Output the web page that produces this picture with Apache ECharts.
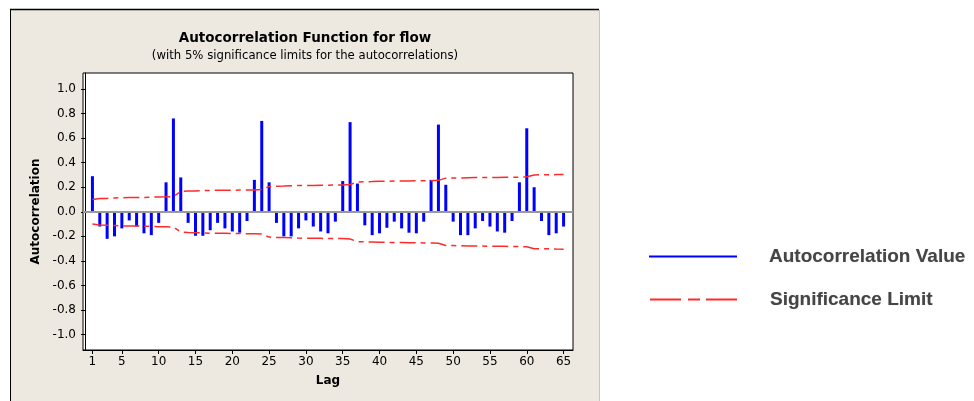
<!DOCTYPE html>
<html>
<head>
<meta charset="utf-8">
<script src="https://cdn.jsdelivr.net/npm/echarts@6/dist/echarts.min.js"></script>
<style>
  html, body { margin: 0; padding: 0; background: #fff; }
  #chart { width: 974px; height: 401px; }
</style>
</head>
<body>
<div id="chart"></div>
<script>
// lags 1..65
var lags = [1, 2, 3, 4, 5, 6, 7, 8, 9, 10, 11, 12, 13, 14, 15, 16, 17, 18, 19, 20,
    21, 22, 23, 24, 25, 26, 27, 28, 29, 30, 31, 32, 33, 34, 35, 36, 37, 38, 39, 40,
    41, 42, 43, 44, 45, 46, 47, 48, 49, 50, 51, 52, 53, 54, 55, 56, 57, 58, 59, 60,
    61, 62, 63, 64, 65];

// autocorrelation
var acfValues = [0.29, -0.12, -0.22, -0.20, -0.135, -0.07, -0.12, -0.175, -0.19, -0.09,
    0.24, 0.76, 0.28, -0.09, -0.195, -0.195, -0.15, -0.09, -0.135, -0.16,
    -0.17, -0.075, 0.26, 0.74, 0.24, -0.09, -0.20, -0.20, -0.135, -0.07,
    -0.12, -0.16, -0.175, -0.08, 0.25, 0.73, 0.23, -0.11, -0.19, -0.175,
    -0.13, -0.08, -0.135, -0.17, -0.175, -0.08, 0.26, 0.71, 0.22, -0.08,
    -0.19, -0.19, -0.135, -0.075, -0.12, -0.16, -0.17, -0.075, 0.24, 0.68,
    0.20, -0.075, -0.19, -0.175, -0.12];

// upper 5% limit (lower one is the mirror)
var sigLimit = [0.100, 0.108, 0.109, 0.112, 0.115, 0.116, 0.116, 0.117, 0.119, 0.121,
    0.122, 0.124, 0.165, 0.169, 0.170, 0.172, 0.174, 0.175, 0.175, 0.176,
    0.177, 0.178, 0.178, 0.181, 0.206, 0.209, 0.210, 0.212, 0.214, 0.215,
    0.215, 0.216, 0.217, 0.218, 0.218, 0.222, 0.243, 0.245, 0.246, 0.248,
    0.249, 0.250, 0.250, 0.251, 0.252, 0.253, 0.253, 0.256, 0.274, 0.275,
    0.276, 0.278, 0.279, 0.279, 0.280, 0.280, 0.281, 0.282, 0.282, 0.285,
    0.300, 0.301, 0.301, 0.303, 0.304];

var xTicks = [1, 5, 10, 15, 20, 25, 30, 35, 40, 45, 50, 55, 60, 65];
var yTicks = [-1.0, -0.8, -0.6, -0.4, -0.2, 0.0, 0.2, 0.4, 0.6, 0.8, 1.0];

var font = 'DejaVu Sans';
var sigDash = [16, 5, 5, 5];
var legendText = { fontFamily: 'Liberation Sans', fontSize: 19, fontWeight: 'bold',
    color: '#454545', padding: [0, 0, 0, 27], textShadowColor: 'rgba(0,0,0,0.25)', textShadowBlur: 1 };

function pairs(sign) {
    var out = [];
    for (var i = 0; i < lags.length; i++) {
        out.push([lags[i], sign * sigLimit[i]]);
    }
    return out;
}

var acfData = lags.map(function (l, i) { return [l, acfValues[i]]; });

var chart = echarts.init(document.getElementById('chart'));

var option = {
    backgroundColor: '#fff',
    animation: false,
    graphic: [
        // minitab style frame
        { type: 'rect', z: -10, shape: { x: 10, y: 9, width: 589, height: 400 },
          style: { fill: '#EDE9E0' } },
        { type: 'line', z: -9, shape: { x1: 10, y1: 9.5, x2: 599, y2: 9.5 },
          style: { stroke: '#000', lineWidth: 1.5 } },
        { type: 'line', z: -9, shape: { x1: 10.5, y1: 9, x2: 10.5, y2: 401 },
          style: { stroke: '#000', lineWidth: 1 } },
        { type: 'line', z: -9, shape: { x1: 599.5, y1: 10, x2: 599.5, y2: 401 },
          style: { stroke: '#c9c5bb', lineWidth: 1 } }
    ],
    title: {
        text: 'Autocorrelation Function for flow',
        subtext: '(with 5% significance limits for the autocorrelations)',
        left: 305,
        top: 31,
        textAlign: 'center',
        padding: 0,
        itemGap: 5,
        textStyle: { fontFamily: font, fontSize: 13.5, fontWeight: 'bold', color: '#000' },
        subtextStyle: { fontFamily: font, fontSize: 11.7, color: '#000' }
    },
    legend: [{
        left: 644,
        top: 242,
        orient: 'vertical',
        data: [{ name: 'Autocorrelation Value', icon: 'rect' }],
        itemWidth: 88,
        itemHeight: 2,
        textStyle: legendText
    }, {
        left: 644,
        top: 285,
        orient: 'vertical',
        data: [{
            name: 'Significance Limit',
            itemStyle: { opacity: 0 },
            lineStyle: { type: [31, 7, 12, 6], width: 2 }
        }],
        itemWidth: 88,
        itemHeight: 14,
        textStyle: legendText
    }],
    grid: {
        left: 83,
        top: 73,
        width: 490,
        height: 277,
        show: true,
        backgroundColor: '#fff',
        borderColor: '#000',
        borderWidth: 1
    },
    xAxis: {
        type: 'value',
        min: -0.28,
        max: 66.28,
        name: 'Lag',
        nameLocation: 'middle',
        nameGap: 25,
        nameTextStyle: { fontFamily: font, fontSize: 12, fontWeight: 'bold', color: '#000' },
        axisLine: { onZero: false, lineStyle: { color: '#000' } },
        axisTick: { customValues: xTicks, length: 4, lineStyle: { color: '#000' } },
        axisLabel: { customValues: xTicks, margin: 6, fontFamily: font, fontSize: 12, color: '#000' },
        splitLine: { show: false }
    },
    yAxis: {
        type: 'value',
        min: -1.125,
        max: 1.13,
        name: 'Autocorrelation',
        nameLocation: 'middle',
        nameGap: 40,
        nameTextStyle: { fontFamily: font, fontSize: 12, fontWeight: 'bold', color: '#000' },
        axisLine: { show: true, lineStyle: { color: '#000' } },
        axisTick: { show: true, customValues: yTicks, length: 4, lineStyle: { color: '#000' } },
        axisLabel: {
            customValues: yTicks, margin: 7, fontFamily: font, fontSize: 12, color: '#000',
            formatter: function (v) { return v.toFixed(1); }
        },
        splitLine: { show: false }
    },
    series: [{
        name: 'Autocorrelation Value',
        type: 'bar',
        data: acfData,
        barWidth: 3,
        itemStyle: { color: '#0000ff' },
        z: 3,
        markLine: {
            silent: true,
            symbol: 'none',
            label: { show: false },
            lineStyle: { color: '#999', width: 2, type: 'solid' },
            data: [{ yAxis: 0 }]
        }
    }, {
        name: 'Significance Limit',
        type: 'line',
        data: pairs(1),
        showSymbol: false,
        symbol: 'none',
        lineStyle: { color: '#ff2a2a', width: 1.5, type: sigDash },
        itemStyle: { color: '#ff2a2a' },
        z: 4
    }, {
        name: 'Significance Limit',
        type: 'line',
        data: pairs(-1),
        showSymbol: false,
        symbol: 'none',
        lineStyle: { color: '#ff2a2a', width: 1.5, type: sigDash },
        itemStyle: { color: '#ff2a2a' },
        z: 4
    }]
};

chart.setOption(option);
</script>
</body>
</html>
